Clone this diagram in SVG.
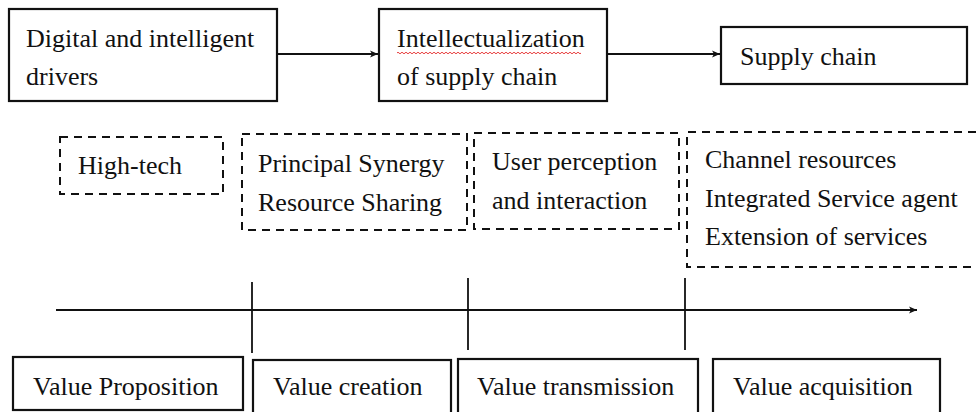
<svg xmlns="http://www.w3.org/2000/svg" width="976" height="412" viewBox="0 0 976 412">
  <defs>
    <marker id="arrowhead" markerWidth="10" markerHeight="10" refX="9" refY="5" orient="auto" markerUnits="userSpaceOnUse">
      <path d="M1,1.5 L9,5 L1,8.5 L3,5 Z" fill="#111"/>
    </marker>
  </defs>
  <style>
    .solid { fill: #fff; stroke: #111; stroke-width: 2.2; }
    .dashed { fill: none; stroke: #111; stroke-width: 2; stroke-dasharray: 8 6; }
    .line { stroke: #111; stroke-width: 1.8; fill: none; }
    .squiggle { stroke: #e84040; stroke-width: 1; fill: none; }
  </style>
  <rect width="976" height="412" fill="#fff"/>

  <g font-family="'Liberation Serif', 'Times New Roman', 'DejaVu Serif', serif" font-size="26" fill="#111">
  <!-- top flow: drivers -> intellectualization -> supply chain -->
  <g id="node-drivers">
    <rect class="solid" x="9" y="9" width="268" height="92"/>
    <text x="26" y="47">Digital and intelligent</text>
    <text x="26" y="85">drivers</text>
  </g>
  <g id="node-intellectualization">
    <rect class="solid" x="379" y="9" width="228" height="92"/>
    <text x="397" y="47">Intellectualization</text>
    <path class="squiggle" d="M397,53 q1,-1.6 2,0 t2,0 t2,0 t2,0 t2,0 t2,0 t2,0 t2,0 t2,0 t2,0 t2,0 t2,0 t2,0 t2,0 t2,0 t2,0 t2,0 t2,0 t2,0 t2,0 t2,0 t2,0 t2,0 t2,0 t2,0 t2,0 t2,0 t2,0 t2,0 t2,0 t2,0 t2,0 t2,0 t2,0 t2,0 t2,0 t2,0 t2,0 t2,0 t2,0 t2,0 t2,0 t2,0 t2,0 t2,0 t2,0 t2,0 t2,0 t2,0 t2,0 t2,0 t2,0 t2,0 t2,0 t2,0 t2,0 t2,0 t2,0 t2,0 t2,0 t2,0 t2,0 t2,0 t2,0 t2,0 t2,0 t2,0 t2,0 t2,0 t2,0 t2,0 t2,0 t2,0 t2,0 t2,0 t2,0 t2,0 t2,0 t2,0 t2,0 t2,0 t2,0 t2,0 t2,0 t2,0 t2,0 t2,0 t2,0 t2,0 t2,0 t2,0 t2,0"/>
    <text x="397" y="85">of supply chain</text>
  </g>
  <g id="node-supply-chain">
    <rect class="solid" x="721" y="27" width="246" height="57"/>
    <text x="740" y="65">Supply chain</text>
  </g>

  <!-- dashed factor boxes -->
  <g id="node-high-tech">
    <rect class="dashed" x="60" y="137" width="163" height="57"/>
    <text x="78" y="174">High-tech</text>
  </g>
  <g id="node-synergy">
    <rect class="dashed" x="242" y="134" width="225" height="96"/>
    <text x="258" y="172">Principal Synergy</text>
    <text x="258" y="211">Resource Sharing</text>
  </g>
  <g id="node-perception">
    <rect class="dashed" x="474" y="133" width="205" height="96"/>
    <text x="492" y="170">User perception</text>
    <text x="492" y="209">and interaction</text>
  </g>
  <g id="node-channel">
    <path class="dashed" d="M990,132 L687,132 L687,267 L990,267"/>
    <text x="705" y="168">Channel resources</text>
    <text x="705" y="207">Integrated Service agent</text>
    <text x="705" y="245">Extension of services</text>
  </g>

  <!-- value stages -->
  <g id="node-proposition">
    <rect class="solid" x="13" y="357" width="230" height="53"/>
    <text x="33" y="395">Value Proposition</text>
  </g>
  <g id="node-creation">
    <rect class="solid" x="253" y="360" width="198" height="56"/>
    <text x="273" y="395">Value creation</text>
  </g>
  <g id="node-transmission">
    <rect class="solid" x="458" y="359" width="240" height="57"/>
    <text x="477" y="395">Value transmission</text>
  </g>
  <g id="node-acquisition">
    <rect class="solid" x="713" y="359" width="227" height="57"/>
    <text x="733" y="395">Value acquisition</text>
  </g>
  </g>

  <!-- connectors and timeline -->
  <g id="connectors">
    <line class="line" x1="277" y1="54" x2="378" y2="54" marker-end="url(#arrowhead)"/>
    <line class="line" x1="607" y1="54" x2="720" y2="54" marker-end="url(#arrowhead)"/>
    <line class="line" x1="56" y1="310" x2="917" y2="310" marker-end="url(#arrowhead)"/>
    <line class="line" x1="252" y1="282" x2="252" y2="353"/>
    <line class="line" x1="468" y1="278" x2="468" y2="350"/>
    <line class="line" x1="685" y1="278" x2="685" y2="350"/>
  </g>
</svg>
